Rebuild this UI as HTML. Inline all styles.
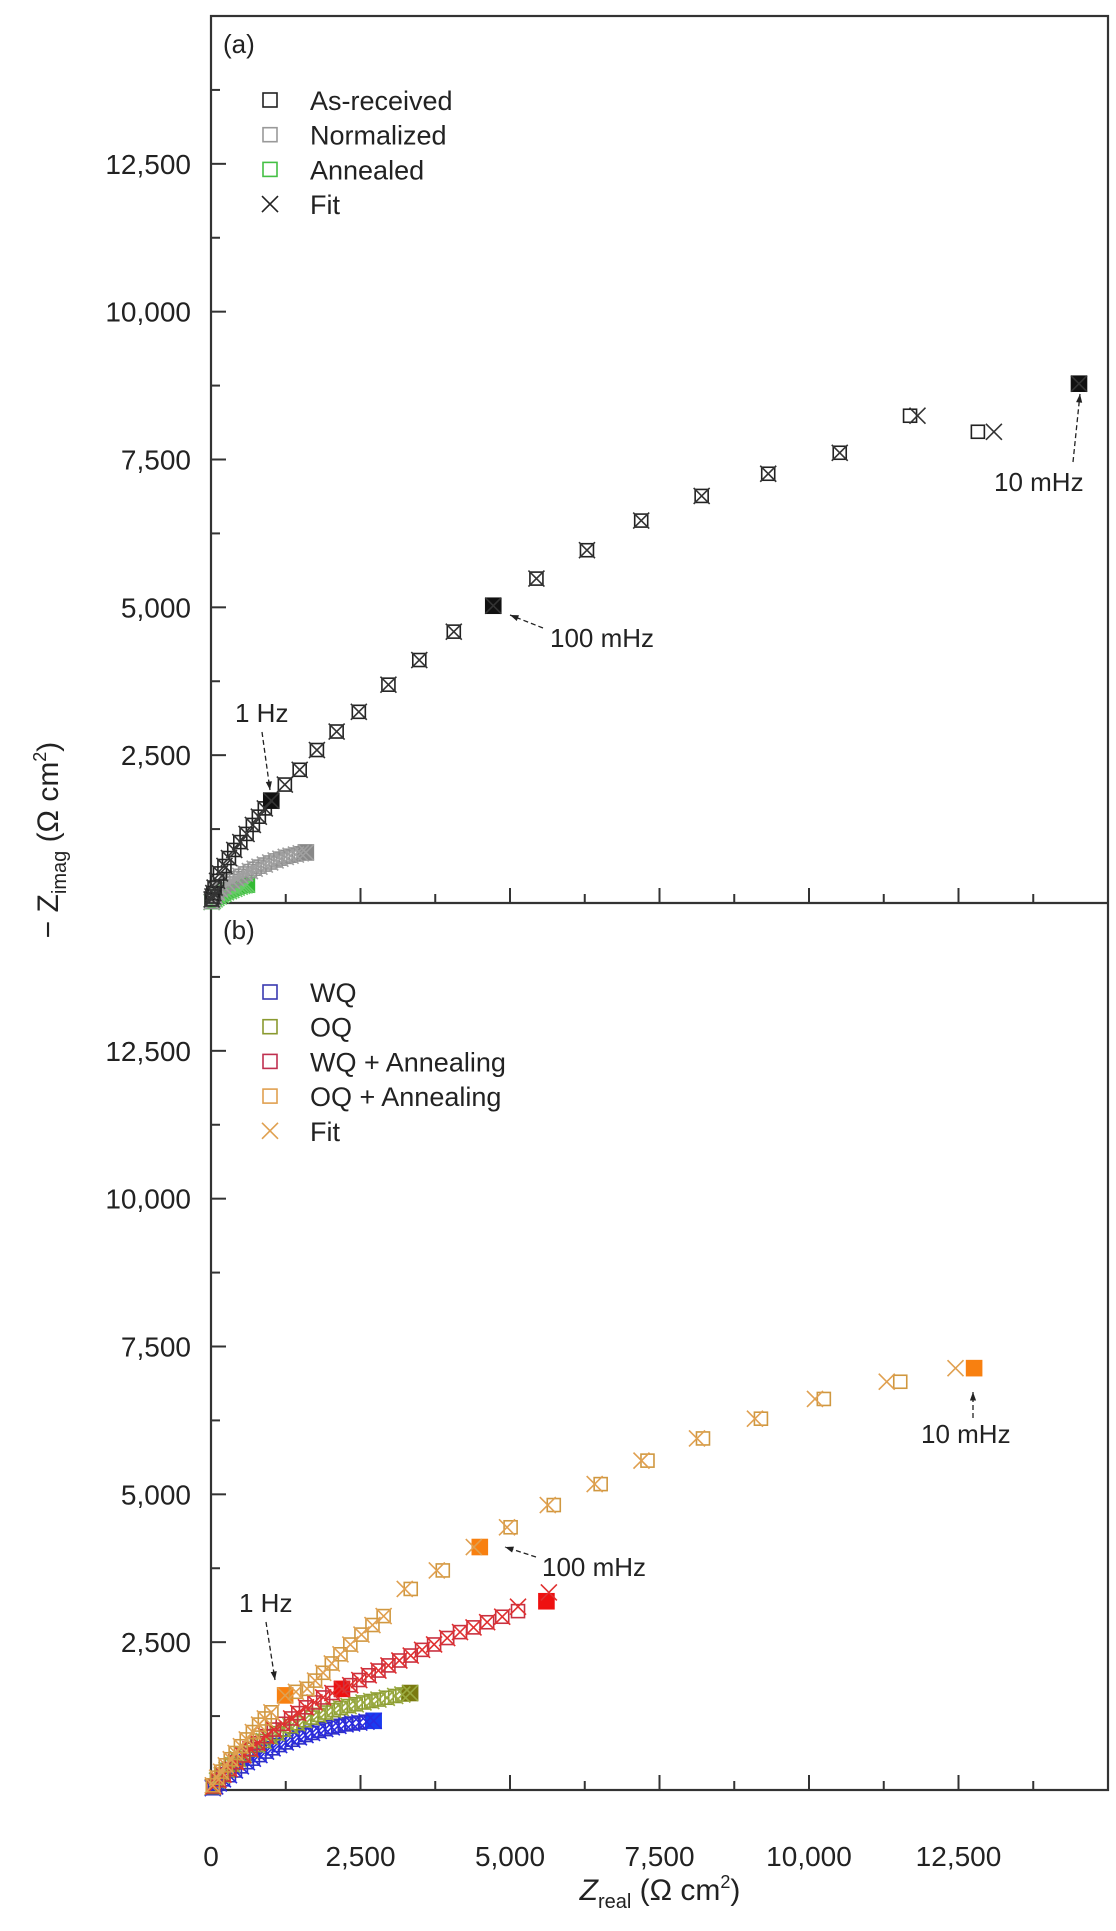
<!DOCTYPE html>
<html><head><meta charset="utf-8"><style>
html,body{margin:0;padding:0;background:#fff;}
svg{display:block;font-family:"Liberation Sans",Arial,sans-serif;}
</style></head><body>
<svg id="chart" width="1116" height="1931" viewBox="0 0 1116 1931" xmlns="http://www.w3.org/2000/svg">
<rect x="0" y="0" width="1116" height="1931" fill="#fff"/>
<g id="plot"></g>
</svg>
<script>
// ---- data (Ohm cm^2) ----
const xTicks = [0, 2500, 5000, 7500, 10000, 12500];
const xTickLabels = ["0", "2,500", "5,000", "7,500", "10,000", "12,500"];
const yTicks = [2500, 5000, 7500, 10000, 12500];
const yTickLabels = ["2,500", "5,000", "7,500", "10,000", "12,500"];

// panel (a)
const asRecX = [10,25,39,60,101,150,225,300,389,490,595,700,800,900,1008,1235,1483,1771,2101,2472,2967,3483,4060,4720,5442,6287,7194,8205,9318,10514,11690,12824,14515];
const asRecY = [60,110,167,260,375,500,626,760,897,1030,1168,1320,1460,1600,1731,2003,2253,2587,2900,3233,3692,4109,4589,5027,5486,5966,6467,6884,7259,7614,8240,7969,8782];
const asRecFitX = [10,25,39,60,101,150,225,300,389,490,595,700,800,900,1008,1235,1483,1771,2101,2472,2967,3483,4060,4720,5442,6287,7194,8205,9318,10514,11814,13092,14515];
const asRecFitY = [60,110,167,260,375,500,626,760,897,1030,1168,1320,1460,1600,1731,2003,2253,2587,2900,3233,3692,4109,4589,5027,5486,5966,6467,6884,7259,7614,8240,7969,8782];
const normX = [10,30,60,100,150,210,280,350,420,490,570,650,730,810,900,990,1080,1160,1250,1330,1420,1500,1586];
const normY = [20,70,120,175,230,280,330,375,420,460,500,540,580,615,650,685,720,750,780,800,820,840,855];
const annX = [10,30,60,90,130,170,210,250,300,340,390,430,480,520,560,600];
const annY = [15,35,60,85,110,135,155,180,200,220,240,260,275,290,300,310];

// panel (b)
const wqX = [30,70,130,200,300,400,500,600,700,810,920,1030,1140,1250,1360,1470,1580,1690,1800,1910,2020,2130,2250,2360,2480,2600,2720];
const wqY = [30,60,110,180,250,330,400,470,530,590,650,705,760,805,850,890,930,965,1000,1030,1060,1085,1110,1125,1140,1155,1170];
const oqX = [30,100,180,260,350,450,550,660,770,880,990,1100,1210,1330,1440,1560,1680,1800,1920,2050,2170,2300,2420,2550,2680,2800,2940,3080,3200,3330];
const oqY = [50,160,250,340,430,520,600,680,760,830,900,960,1020,1080,1130,1180,1225,1270,1310,1350,1385,1420,1450,1480,1505,1530,1560,1590,1615,1640];
const wqaX = [40,124,210,309,420,536,660,783,920,1051,1200,1340,1460,1588,1730,1876,2030,2190,2328,2480,2637,2800,2967,3150,3340,3530,3731,3950,4164,4390,4618,4870,5134,5609];
const wqaY = [60,167,260,355,470,584,690,793,910,1022,1120,1210,1300,1398,1480,1565,1640,1710,1773,1860,1940,2020,2107,2190,2274,2370,2461,2570,2670,2750,2837,2930,3025,3192];
const wqaFitX = [40,124,210,309,420,536,660,783,920,1051,1200,1340,1460,1588,1730,1876,2030,2190,2328,2480,2637,2800,2967,3150,3340,3530,3731,3950,4164,4390,4618,4870,5134,5650];
const wqaFitY = [60,167,260,355,470,584,690,793,910,1022,1120,1210,1300,1398,1480,1565,1640,1710,1773,1860,1940,2020,2107,2190,2274,2370,2461,2570,2670,2750,2837,2930,3100,3340];
const oqaX = [30,103,170,247,330,412,500,598,700,804,900,1010,1240,1420,1608,1740,1876,2020,2165,2330,2516,2700,2887,3340,3876,4495,5010,5732,6516,7299,8227,9196,10248,11526,12761];
const oqaY = [80,209,310,417,520,626,740,855,980,1106,1210,1314,1600,1660,1711,1850,1982,2140,2295,2460,2628,2790,2941,3400,3713,4109,4443,4819,5173,5570,5945,6279,6613,6904,7134];
const oqaFitX = [30,103,170,247,330,412,500,598,700,804,900,1010,1240,1420,1608,1740,1876,2020,2165,2330,2516,2700,2887,3240,3776,4395,4950,5632,6416,7199,8127,9096,10100,11300,12450];
const oqaFitY = [80,209,310,417,520,626,740,855,980,1106,1210,1314,1600,1660,1711,1850,1982,2140,2295,2460,2628,2790,2941,3400,3713,4109,4443,4819,5173,5570,5945,6279,6613,6904,7134];

// ---- geometry ----
const L = 211, R = 1108;
const panels = [{top:16, bottom:903}, {top:903, bottom:1790}];
const xs = v => L + v * (R - L) / 15000;
function ysF(p){ return v => p.bottom - v * (p.bottom - p.top) / 15000; }
const NS = "http://www.w3.org/2000/svg";
const g = document.getElementById("plot");
function el(tag, attrs, parent){
  const e = document.createElementNS(NS, tag);
  for (const k in attrs) e.setAttribute(k, attrs[k]);
  (parent || g).appendChild(e);
  return e;
}
function txt(s, x, y, size, anchor, parent){
  const t = el("text", {x:x, y:y, "font-size":size, "text-anchor":anchor||"start", fill:"#222"}, parent);
  t.textContent = s;
  return t;
}

const frame = el("rect", {x:L, y:16, width:R-L, height:1790-16, fill:"none", stroke:"#333", "stroke-width":2.2});


const div = el("line", {x1:L, x2:R, y1:903, y2:903, stroke:"#333", "stroke-width":2.2});



panels.forEach((p, pi) => {
  const ys = ysF(p);
  const axg = el("g", {});
  
  
  for (let v = 1250; v < 15000; v += 1250) {
    const major = (v % 2500 === 0);
    el("line", {x1:L, x2:L + (major ? 15 : 9), y1:ys(v), y2:ys(v), stroke:"#333", "stroke-width":2}, axg);
  }
  for (let v = 1250; v < 15000; v += 1250) {
    const major = (v % 2500 === 0);
    el("line", {x1:xs(v), x2:xs(v), y1:p.bottom, y2:p.bottom - (major ? 15 : 9), stroke:"#333", "stroke-width":2}, axg);
  }
  yTicks.forEach((v, i) => {
    const t = txt(yTickLabels[i], 191, ys(v) + 10, 28, "end", axg);
    
    
  });
});
xTicks.forEach((v, i) => {
  const t = txt(xTickLabels[i], xs(v), 1866, 28, "middle");
  
  
});

function square(x, y, color, parent, filled){
  const s = filled ? 15 : 13;
  el("rect", {x:x - s/2, y:y - s/2, width:s, height:s, fill: filled ? color : "none", stroke:color, "stroke-width":1.6}, parent);
}
function cross(x, y, color, parent){
  const s = 8;
  el("path", {d:`M${x-s},${y-s}L${x+s},${y+s}M${x-s},${y+s}L${x+s},${y-s}`, stroke:color, "stroke-width":1.6, fill:"none"}, parent);
}
function series(name, p, X, Y, FX, FY, col, fitCol, filledIdx, filledCol){
  const ys = ysF(p);
  const sg = el("g", {});
  
  
  X.forEach((v, i) => {
    if (filledIdx.indexOf(i) >= 0) square(xs(v), ys(Y[i]), filledCol, sg, true);
    else square(xs(v), ys(Y[i]), col, sg, false);
  });
  FX.forEach((v, i) => cross(xs(v), ys(FY[i]), fitCol, sg));
}
const pa = panels[0], pb = panels[1];
series("annealed-series", pa, annX, annY, annX, annY, "#44c044", "#66cc66", [15], "#33bb33");
series("normalized-series", pa, normX, normY, normX, normY, "#909090", "#a0a0a0", [22], "#888");
series("as-received-series", pa, asRecX, asRecY, asRecFitX, asRecFitY, "#222", "#333", [14, 23, 32], "#111");
series("wq-series", pb, wqX, wqY, wqX, wqY, "#3030c0", "#2a2ae0", [26], "#1a3cf0");
series("oq-series", pb, oqX, oqY, oqX, oqY, "#8a9a30", "#9aaa40", [29], "#7a7a10");
series("wq-annealing-series", pb, wqaX, wqaY, wqaFitX, wqaFitY, "#c83040", "#e03030", [17, 33], "#ee1111");
series("oq-annealing-series", pb, oqaX, oqaY, oqaFitX, oqaFitY, "#d09840", "#e0a050", [12, 25, 34], "#f88010");

function arrow(x1, y1, x2, y2, name){
  const ag = el("g", {});
  
  
  el("line", {x1:x1, y1:y1, x2:x2, y2:y2, stroke:"#222", "stroke-width":1.3, "stroke-dasharray":"5,3"}, ag);
  const a = Math.atan2(y2 - y1, x2 - x1), s = 9;
  const p1 = [x2 - s*Math.cos(a - 0.35), y2 - s*Math.sin(a - 0.35)];
  const p2 = [x2 - s*Math.cos(a + 0.35), y2 - s*Math.sin(a + 0.35)];
  el("path", {d:`M${x2},${y2}L${p1[0]},${p1[1]}L${p2[0]},${p2[1]}Z`, fill:"#222"}, ag);
}
[["1 Hz",235,722,"start"],["100 mHz",550,647,"start"],["10 mHz",994,491,"start"],
 ["1 Hz",239,1612,"start"],["100 mHz",542,1576,"start"],["10 mHz",921,1443,"start"]].forEach(a => {
  const t = txt(a[0], a[1], a[2], 26, a[3]);
  
  
});
arrow(262, 732, 270, 790, "arrow-1hz-a");
arrow(543, 628, 510, 615, "arrow-100mhz-a");
arrow(1073, 462, 1080, 394, "arrow-10mhz-a");
arrow(266, 1622, 275, 1680, "arrow-1hz-b");
arrow(536, 1557, 505, 1547, "arrow-100mhz-b");
arrow(973, 1418, 973, 1392, "arrow-10mhz-b");

const la = txt("(a)", 223, 53, 26, "start");


const lb = txt("(b)", 223, 939, 26, "start");



function legend(items, y0, name){
  const lg = el("g", {});
  
  
  items.forEach((it, i) => {
    const y = y0 + i * 34.7;
    if (it[2] === "x") cross(270, y, it[1], lg);
    else el("rect", {x:263, y:y - 7, width:14, height:14, fill:"none", stroke:it[1], "stroke-width":1.6}, lg);
    const t = txt(it[0], 310, y + 10, 27, "start", lg);
    
    
  });
}
legend([["As-received","#222"],["Normalized","#999"],["Annealed","#44c044"],["Fit","#222","x"]], 100, "legend-a");
legend([["WQ","#3a3ab0"],["OQ","#8a9a30"],["WQ + Annealing","#c03050"],["OQ + Annealing","#e0a050"],["Fit","#e0a050","x"]], 992, "legend-b");

const yt = el("text", {transform:"translate(58,840) rotate(-90)", "text-anchor":"middle", "font-size":30, fill:"#222"});


yt.innerHTML = '− Z<tspan font-size="20" dy="8">imag</tspan><tspan dy="-8"> (Ω cm</tspan><tspan font-size="18" dy="-12">2</tspan><tspan dy="12">)</tspan>';
const xt = el("text", {x:660, y:1900, "text-anchor":"middle", "font-size":30, fill:"#222"});


xt.innerHTML = '<tspan font-style="italic">Z</tspan><tspan font-size="20" dy="8">real</tspan><tspan dy="-8"> (Ω cm</tspan><tspan font-size="18" dy="-12">2</tspan><tspan dy="12">)</tspan>';
</script>
</body></html>
